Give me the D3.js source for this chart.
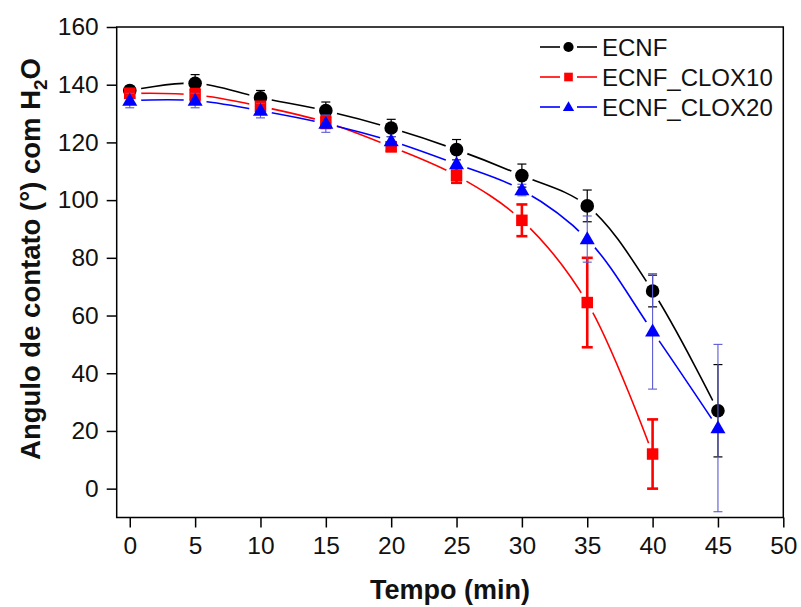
<!DOCTYPE html>
<html>
<head>
<meta charset="utf-8">
<script src="https://cdn.jsdelivr.net/npm/d3@7"></script>
<style>
  html, body { margin: 0; padding: 0; background: #fff; }
  svg { display: block; font-family: "Liberation Sans", Arial, sans-serif; }
</style>
</head>
<body>
<svg id="chart" width="801" height="607"></svg>
<script>
// Contact angle with water over time
const times = [0, 5, 10, 15, 20, 25, 30, 35, 40, 45];
const ecnf = [138, 140.5, 135.5, 131, 125, 117.5, 108.5, 98, 68.5, 27];
const ecnfErr = [1.5, 3, 2.5, 3, 3, 3.5, 4, 5.5, 5.5, 16];
const clox10 = [137, 136.5, 132.5, 127, 118.5, 108.5, 93, 64.5, 12];
const clox10Err = [1.5, 2, 1.5, 2, 1.5, 2.5, 5.5, 15.5, 12];
const clox20 = [134.5, 134.5, 131, 126.5, 120.5, 112.5, 103.5, 86.5, 54.5, 21];
const clox20Err = [2.5, 2.5, 2.5, 3, 1.5, 1.5, 2, 8, 20, 29];
const xTicks = [0, 5, 10, 15, 20, 25, 30, 35, 40, 45, 50];
const yTicks = [0, 20, 40, 60, 80, 100, 120, 140, 160];
const seriesNames = ["ECNF", "ECNF_CLOX10", "ECNF_CLOX20"];

const series = [
  { name: seriesNames[0], values: ecnf, errs: ecnfErr, color: "#000000", errColor: "#000000", errWidth: 1.2, shape: "circle" },
  { name: seriesNames[1], values: clox10, errs: clox10Err, color: "#ff0000", errColor: "#ff0000", errWidth: 2.6, shape: "square" },
  { name: seriesNames[2], values: clox20, errs: clox20Err, color: "#0000ff", errColor: "#5a5ad2", errWidth: 1.1, shape: "triangle" }
];

const svg = d3.select("#chart");
const plotLeft = 116.7, plotRight = 783.3, plotTop = 27, plotBottom = 517.5;

const x = d3.scaleLinear().domain([-1, 50]).range([plotLeft, plotRight]);
const y = d3.scaleLinear().domain([-10, 160]).range([plotBottom, plotTop]);

// Axes: outward ticks on the left and bottom only
const xAxis = svg.append("g")
  .attr("transform", `translate(0,${plotBottom})`)
  .call(d3.axisBottom(x).tickValues(xTicks).tickSize(10).tickPadding(9).tickFormat(d3.format("d")));
const yAxis = svg.append("g")
  .attr("transform", `translate(${plotLeft},0)`)
  .call(d3.axisLeft(y).tickValues(yTicks).tickSize(10).tickPadding(8).tickFormat(d3.format("d")));
[xAxis, yAxis].forEach(g => {
  g.select(".domain").remove();
  g.selectAll(".tick line").attr("stroke", "#000").attr("stroke-width", 1.5);
  g.selectAll(".tick text")
    .attr("fill", "#111")
    .style("font-size", "24.5px")
    .style("font-family", "'Liberation Sans', Arial, sans-serif");
});

// Plot frame
svg.append("rect")
  .attr("x", plotLeft).attr("y", plotTop)
  .attr("width", plotRight - plotLeft).attr("height", plotBottom - plotTop)
  .attr("fill", "none").attr("stroke", "#000").attr("stroke-width", 1.5);

// Marker shapes
function drawMarker(g, shape, cx, cy, color, scale) {
  if (shape === "circle") {
    g.append("circle").attr("cx", cx).attr("cy", cy).attr("r", 6.8 * scale).attr("fill", color);
  } else if (shape === "square") {
    const s = 11.5 * scale;
    g.append("rect").attr("x", cx - s / 2).attr("y", cy - s / 2).attr("width", s).attr("height", s).attr("fill", color);
  } else {
    const w = 15 * scale, h = 13 * scale;
    g.append("path")
      .attr("d", `M${cx},${cy - h * 0.6}L${cx + w / 2},${cy + h * 0.4}L${cx - w / 2},${cy + h * 0.4}Z`)
      .attr("fill", color);
  }
}

const defs = svg.append("defs");
const line = d3.line()
  .x(d => x(d.t))
  .y(d => y(d.v))
  .curve(d3.curveCatmullRom.alpha(0.5));

series.forEach((s, i) => {
  const pts = s.values.map((v, j) => ({ t: times[j], v: v, e: s.errs[j] }));

  // Lines stop short of each symbol
  const mask = defs.append("mask").attr("id", "gap" + i)
    .attr("maskUnits", "userSpaceOnUse")
    .attr("x", 0).attr("y", 0).attr("width", 801).attr("height", 607);
  mask.append("rect").attr("width", 801).attr("height", 607).attr("fill", "#fff");
  pts.forEach(p => mask.append("circle").attr("cx", x(p.t)).attr("cy", y(p.v)).attr("r", 11.5).attr("fill", "#000"));

  const g = svg.append("g");
  g.append("path")
    .datum(pts)
    .attr("d", line)
    .attr("fill", "none")
    .attr("stroke", s.color)
    .attr("stroke-width", 1.6)
    .attr("mask", `url(#gap${i})`);

  // Error bars
  const eg = g.append("g").attr("stroke", s.errColor).attr("stroke-width", s.errWidth);
  const cap = s.shape === "square" ? 5.5 : 4.5;
  pts.forEach(p => {
    const cx = x(p.t);
    eg.append("line").attr("x1", cx).attr("x2", cx).attr("y1", y(p.v + p.e)).attr("y2", y(p.v - p.e));
    eg.append("line").attr("x1", cx - cap).attr("x2", cx + cap).attr("y1", y(p.v + p.e)).attr("y2", y(p.v + p.e));
    eg.append("line").attr("x1", cx - cap).attr("x2", cx + cap).attr("y1", y(p.v - p.e)).attr("y2", y(p.v - p.e));
  });

  // Symbols
  pts.forEach(p => drawMarker(g, s.shape, x(p.t), y(p.v), s.color, 1));
});

// Legend
const legend = svg.append("g");
const legendRows = [47, 77, 107];
series.forEach((s, i) => {
  const ly = legendRows[i];
  legend.append("line").attr("x1", 540).attr("x2", 560).attr("y1", ly).attr("y2", ly)
    .attr("stroke", s.color).attr("stroke-width", 1.6);
  legend.append("line").attr("x1", 577).attr("x2", 597).attr("y1", ly).attr("y2", ly)
    .attr("stroke", s.color).attr("stroke-width", 1.6);
  drawMarker(legend, s.shape, 568.5, ly, s.color, 0.75);
  legend.append("text")
    .attr("x", 602).attr("y", ly + 8.5)
    .attr("fill", "#111")
    .style("font-size", "24px")
    .text(s.name);
});

// Axis titles
svg.append("text")
  .attr("x", 450).attr("y", 599)
  .attr("text-anchor", "middle")
  .style("font-size", "27px").style("font-weight", "bold")
  .attr("fill", "#111")
  .text("Tempo (min)");

const yTitle = svg.append("text")
  .attr("transform", "translate(40,259) rotate(-90)")
  .attr("text-anchor", "middle")
  .style("font-size", "27.5px").style("font-weight", "bold")
  .attr("fill", "#111");
yTitle.append("tspan").text("Angulo de contato (°) com H");
yTitle.append("tspan").attr("dy", 7).style("font-size", "19px").text("2");
yTitle.append("tspan").attr("dy", -7).text("O");
</script>
</body>
</html>
